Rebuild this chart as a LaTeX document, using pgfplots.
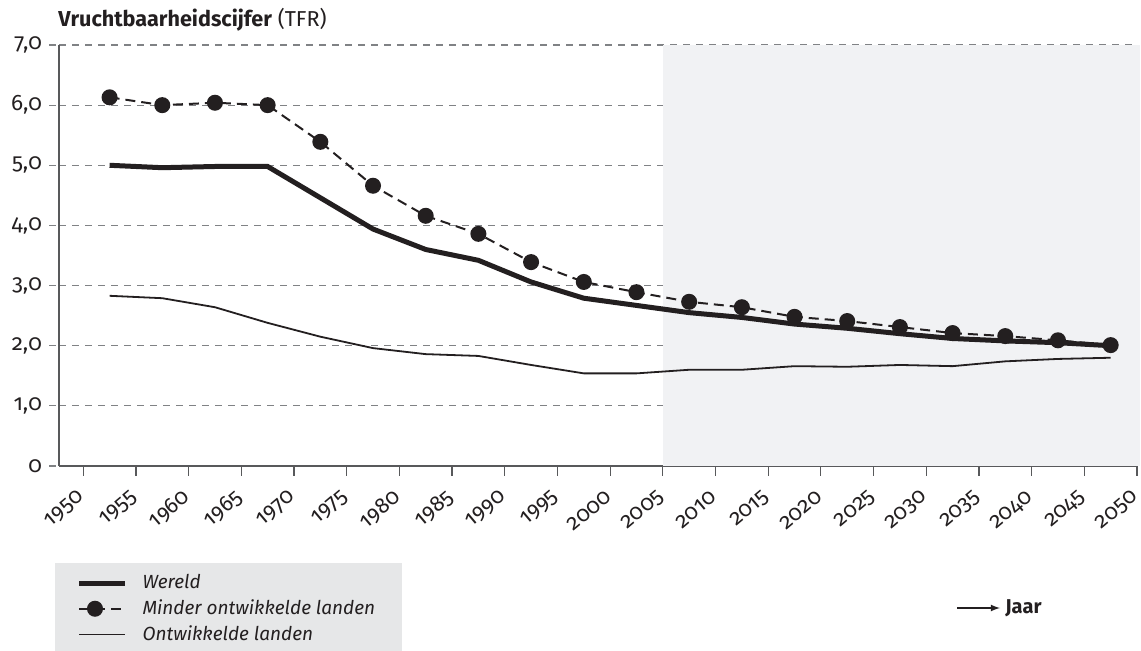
\documentclass[border=0pt]{standalone}
\usepackage{fontspec}
\setmainfont{Fira Sans}[Numbers=OldStyle]
\usepackage{pgfplots}
\pgfplotsset{compat=1.18}
\definecolor{lineblack}{HTML}{231F20}
\definecolor{gridgray}{HTML}{808285}
\definecolor{axisgray}{HTML}{58595B}
\definecolor{shade}{HTML}{F1F2F4}
\definecolor{legendgray}{HTML}{E6E7E8}

\pgfplotstableread{
x w m o
1952.5 5.00 6.13 2.83
1957.5 4.96 6.00 2.79
1962.5 4.98 6.04 2.64
1967.5 4.98 6.00 2.38
1972.5 4.46 5.39 2.15
1977.5 3.94 4.66 1.96
1982.5 3.60 4.16 1.86
1987.5 3.42 3.86 1.83
1992.5 3.06 3.39 1.68
1997.5 2.79 3.06 1.54
2002.5 2.67 2.89 1.54
2007.5 2.55 2.73 1.60
2012.5 2.47 2.64 1.60
2017.5 2.36 2.48 1.66
2022.5 2.29 2.41 1.65
2027.5 2.20 2.31 1.68
2032.5 2.12 2.21 1.66
2037.5 2.08 2.16 1.74
2042.5 2.05 2.09 1.78
2047.5 2.00 2.01 1.80
}\tfr

\begin{document}
\begin{tikzpicture}
\fill[legendgray] (27.5pt,-281.5pt) rectangle (201pt,-325.5pt);
\node[anchor=base west, inner sep=0pt, font=\fontsize{10.8}{13}\selectfont, text=lineblack] at (29pt,-13.5pt) {\textbf{Vruchtbaarheidscijfer} (TFR)};
\begin{axis}[
  set layers,
  scale only axis, width=539pt, height=210.5pt,
  at={(29.5pt,-233pt)}, anchor=south west,
  xmin=1947.7, xmax=2050, ymin=0, ymax=7,
  axis x line*=bottom, axis y line*=left,
  axis line style={axisgray, line width=0.7pt},
  clip=false,
  xtick={1950,1955,1960,1965,1970,1975,1980,1985,1990,1995,2000,2005,2010,2015,2020,2025,2030,2035,2040,2045,2050},
  xticklabels={1950,1955,1960,1965,1970,1975,1980,1985,1990,1995,2000,2005,2010,2015,2020,2025,2030,2035,2040,2045,2050},
  ytick={0,1,2,3,4,5,6,7},
  yticklabels={0,{1,0},{2,0},{3,0},{4,0},{5,0},{6,0},{7,0}},
  ymajorgrids,
  grid style={gridgray, line width=0.6pt, dash pattern=on 3.5pt off 3pt},
  tick align=outside, major tick length=5pt,
  xtick style={axisgray, line width=0.6pt},
  ytick style={gridgray, line width=0.6pt, dash pattern=on 3.5pt off 3pt},
  ticklabel style={text=lineblack},
  yticklabel style={font=\fontsize{11.2}{13}\selectfont},
  xticklabel style={font=\fontsize{11}{13}\selectfont, xshift=2pt, yshift=-7pt, rotate=40, anchor=east},
  legend style={at={(0.0103,-0.238)}, anchor=north west, fill=none, draw=none,
    font=\fontsize{9.5}{11}\selectfont\itshape, text=lineblack, row sep=0pt, column sep=5.5pt},
  legend cell align=left,
  legend image code/.code={\draw[mark repeat=2,mark phase=2,#1] plot coordinates {(0pt,0pt) (8pt,0pt) (23pt,0pt)};},
]
\addplot[fill=shade, draw=none, forget plot] coordinates {(2005,7) (2050.3,7)} \closedcycle;
\addplot[lineblack, line width=2.5pt] table[x=x, y=w] {\tfr};
\addlegendentry{Wereld}
\addplot[lineblack, line width=1pt, dash pattern=on 5pt off 3pt, mark=*, mark size=3.5pt, mark options={solid}] table[x=x, y=m] {\tfr};
\addlegendentry{Minder ontwikkelde landen}
\addplot[lineblack, line width=0.9pt] table[x=x, y=o] {\tfr};
\addlegendentry{Ontwikkelde landen}
\end{axis}
\draw[lineblack, line width=0.6pt, -latex] (478.5pt,-304pt) -- (500pt,-304pt);
\node[anchor=west, inner sep=0pt, font=\fontsize{10}{12}\selectfont\bfseries, text=lineblack] at (502.5pt,-304pt) {Jaar};
\pgfresetboundingbox
\useasboundingbox (0,0) rectangle (570.5pt,-325.5pt);
\end{tikzpicture}
\end{document}
